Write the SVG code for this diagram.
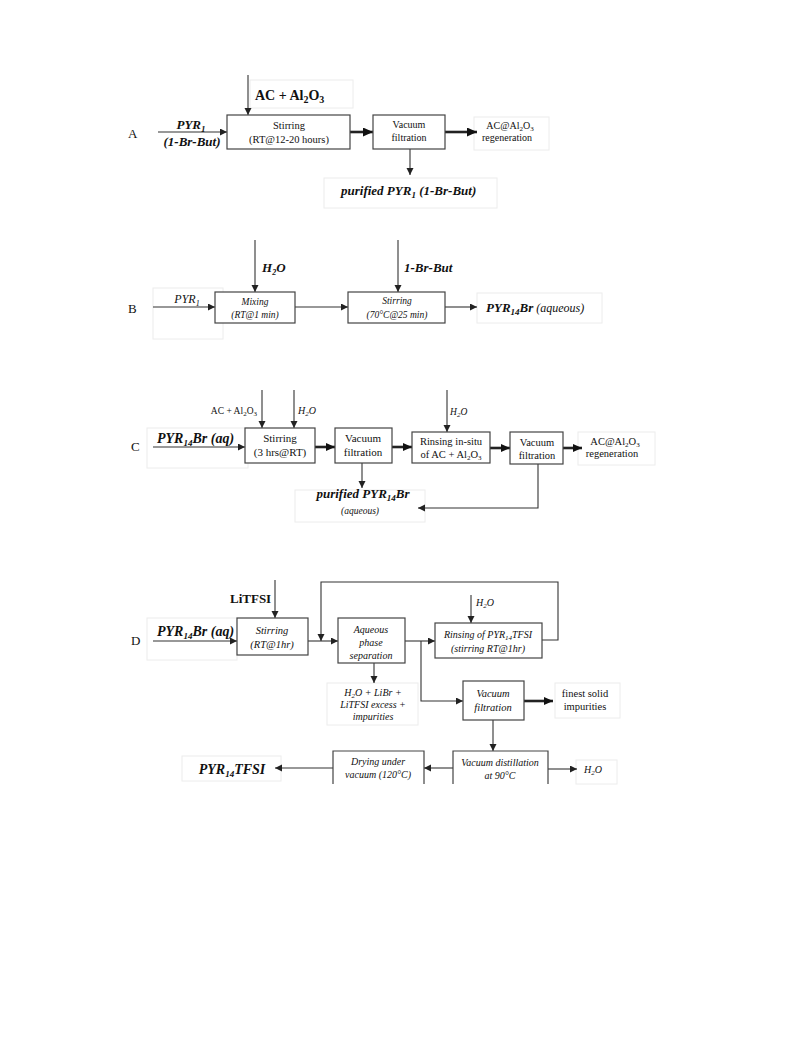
<svg xmlns="http://www.w3.org/2000/svg" width="793" height="1057" viewBox="0 0 793 1057">
<defs>
<style>
text{font-family:"Liberation Serif","Times New Roman",serif;fill:#111}
.box{fill:#fff;stroke:#444;stroke-width:1.2}
.open{fill:none;stroke:#444;stroke-width:1.2}
.faint{fill:#fff;stroke:#ececec;stroke-width:1}
.ln{fill:none;stroke:#333;stroke-width:1.1}
.tk{fill:none;stroke:#222;stroke-width:2.6}
.c{text-anchor:middle}
.i{font-style:italic}
.b{font-weight:bold}
.bi{font-weight:bold;font-style:italic}
</style>
<marker id="ah" markerUnits="userSpaceOnUse" markerWidth="8" markerHeight="8" refX="7" refY="3.5" orient="auto">
<path d="M0,0 L7,3.5 L0,7 Z" fill="#222"/>
</marker>
<marker id="ahM" markerUnits="userSpaceOnUse" markerWidth="10" markerHeight="9" refX="9" refY="4" orient="auto">
<path d="M0,0 L9,4 L0,8 Z" fill="#111"/>
</marker>
<marker id="ahT" markerUnits="userSpaceOnUse" markerWidth="11" markerHeight="10" refX="10" refY="4.5" orient="auto">
<path d="M0,0 L10,4.5 L0,9 Z" fill="#111"/>
</marker>
</defs>
<rect width="793" height="1057" fill="#fff"/>

<!-- faint text-box frames -->
<g id="frames">
<rect class="faint" x="250" y="80" width="103" height="28"/>
<rect class="faint" x="474" y="117" width="75" height="33"/>
<rect class="faint" x="324" y="178" width="173" height="30"/>
<rect class="faint" x="153" y="288" width="70" height="51"/>
<rect class="faint" x="477" y="293" width="125" height="30"/>
<rect class="faint" x="147" y="428" width="101" height="40"/>
<rect class="faint" x="578" y="432" width="77" height="33"/>
<rect class="faint" x="295" y="490" width="130" height="32"/>
<rect class="faint" x="147" y="618" width="90" height="42"/>
<rect class="faint" x="327" y="683" width="91" height="42"/>
<rect class="faint" x="555" y="683" width="65" height="35"/>
<rect class="faint" x="576" y="760" width="41" height="24"/>
<rect class="faint" x="182" y="756" width="99" height="25"/>
</g>

<g id="connectors">
<!-- A -->
<line class="ln" x1="248" y1="75" x2="248" y2="115" marker-end="url(#ah)"/>
<line class="ln" x1="158" y1="132" x2="227" y2="132" marker-end="url(#ah)"/>
<line class="tk" x1="350" y1="132" x2="373" y2="132" marker-end="url(#ahT)"/>
<line class="tk" x1="445" y1="132" x2="477" y2="132" marker-end="url(#ahT)"/>
<line class="ln" x1="410" y1="149" x2="410" y2="175" marker-end="url(#ah)"/>
<!-- B -->
<line class="ln" x1="153" y1="307" x2="215" y2="307" marker-end="url(#ah)"/>
<line class="ln" x1="255" y1="240" x2="255" y2="292" marker-end="url(#ah)"/>
<line class="ln" x1="295" y1="307" x2="348" y2="307" marker-end="url(#ah)"/>
<line class="ln" x1="398" y1="240" x2="398" y2="292" marker-end="url(#ah)"/>
<line class="ln" x1="445" y1="307" x2="477" y2="307" marker-end="url(#ah)"/>
<!-- C -->
<line class="ln" x1="153" y1="447" x2="245" y2="447" stroke-width="1.6" marker-end="url(#ah)"/>
<line class="ln" x1="262" y1="390" x2="262" y2="428" marker-end="url(#ah)"/>
<line class="ln" x1="294" y1="390" x2="294" y2="428" marker-end="url(#ah)"/>
<line class="tk" x1="315" y1="447" x2="335" y2="447" stroke-width="2.2" marker-end="url(#ahM)"/>
<line class="tk" x1="392" y1="447" x2="412" y2="447" stroke-width="2.2" marker-end="url(#ahM)"/>
<line class="ln" x1="447" y1="390" x2="447" y2="432" marker-end="url(#ah)"/>
<line class="tk" x1="490" y1="448" x2="510" y2="448" stroke-width="2.2" marker-end="url(#ahM)"/>
<line class="tk" x1="563" y1="448" x2="582" y2="448" stroke-width="2.2" marker-end="url(#ahM)"/>
<line class="ln" x1="362" y1="463" x2="362" y2="488" marker-end="url(#ah)"/>
<polyline class="ln" points="538,464 538,508 418,508" marker-end="url(#ah)"/>
<!-- D -->
<line class="ln" x1="153" y1="641" x2="237" y2="641" stroke-width="1.4" marker-end="url(#ah)"/>
<line class="ln" x1="275" y1="580" x2="275" y2="618" marker-end="url(#ah)"/>
<line class="ln" x1="308" y1="641" x2="338" y2="641" marker-end="url(#ah)"/>
<polyline class="ln" points="542,640 558,640 558,582 321,582 321,641" marker-end="url(#ah)"/>
<line class="ln" x1="405" y1="641" x2="435" y2="641" marker-end="url(#ah)"/>
<line class="ln" x1="471" y1="595" x2="471" y2="623" marker-end="url(#ah)"/>
<polyline class="ln" points="421,641 421,701 463,701" marker-end="url(#ah)"/>
<line class="tk" x1="524" y1="701" x2="553" y2="701" stroke-width="2.4" marker-end="url(#ahM)"/>
<line class="ln" x1="374" y1="663" x2="374" y2="683" marker-end="url(#ah)"/>
<line class="ln" x1="493" y1="720" x2="493" y2="751" marker-end="url(#ah)"/>
<line class="ln" x1="548" y1="769" x2="577" y2="769" marker-end="url(#ah)"/>
<line class="ln" x1="453" y1="768" x2="424" y2="768" marker-end="url(#ah)"/>
<line class="ln" x1="333" y1="768" x2="275" y2="768" marker-end="url(#ah)"/>
</g>

<!-- Section labels -->
<g id="labels">
<text x="128" y="138" font-size="13">A</text>
<text x="128" y="313" font-size="13">B</text>
<text x="131" y="451" font-size="13">C</text>
<text x="131" y="645" font-size="13">D</text>
</g>

<!-- A -->
<g id="A-in-ac"><text class="b" x="255" y="100" font-size="14">AC + Al<tspan font-size="10" dy="3">2</tspan><tspan dy="-3">O</tspan><tspan font-size="10" dy="3">3</tspan></text></g>
<g id="A-in-pyr">
<text class="bi c" x="191" y="129" font-size="13">PYR<tspan font-size="9" dy="3">1</tspan></text>
<text class="bi c" x="192" y="146" font-size="13">(1-Br-But)</text>
</g>
<g id="A-stirring">
<rect class="box" x="227" y="115" width="123" height="34"/>
<text class="c" x="289" y="129" font-size="10.5">Stirring</text>
<text class="c" x="289" y="143" font-size="10.5">(RT@12-20 hours)</text>
</g>
<g id="A-vacuum">
<rect class="box" x="373" y="115" width="72" height="34"/>
<text class="c" x="409" y="128" font-size="10">Vacuum</text>
<text class="c" x="409" y="141" font-size="10">filtration</text>
</g>
<g id="A-regen">
<text class="c" x="510" y="129" font-size="10">AC@Al<tspan font-size="7" dy="2">2</tspan><tspan dy="-2">O</tspan><tspan font-size="7" dy="2">3</tspan></text>
<text class="c" x="507" y="141" font-size="10">regeneration</text>
</g>
<g id="A-purified">
<text class="bi" x="341" y="195" font-size="13">purified PYR<tspan font-size="9" dy="3">1</tspan><tspan dy="-3"> (1-Br-But)</tspan></text>
</g>

<!-- B -->
<g id="B-in-pyr"><text class="i c" x="187" y="303" font-size="12">PYR<tspan font-size="8" dy="3">1</tspan></text></g>
<g id="B-in-h2o"><text class="bi" x="262" y="272" font-size="13">H<tspan font-size="8" dy="3">2</tspan><tspan dy="-3">O</tspan></text></g>
<g id="B-mixing">
<rect class="box" x="215" y="292" width="80" height="31"/>
<text class="i c" x="255" y="305" font-size="9.5">Mixing</text>
<text class="i c" x="255" y="318" font-size="9.5">(RT@1 min)</text>
</g>
<g id="B-in-br"><text class="bi" x="404" y="272" font-size="13">1-Br-But</text></g>
<g id="B-stirring">
<rect class="box" x="348" y="292" width="97" height="31"/>
<text class="i c" x="397" y="304" font-size="9.5">Stirring</text>
<text class="i c" x="397" y="318" font-size="9.5">(70°C@25 min)</text>
</g>
<g id="B-out"><text x="486" y="312" font-size="13"><tspan class="bi">PYR</tspan><tspan class="bi" font-size="9" dy="3">14</tspan><tspan class="bi" dy="-3">Br</tspan><tspan class="i" font-size="12"> (aqueous)</tspan></text></g>

<!-- C -->
<g id="C-in"><text class="bi" x="157" y="443" font-size="14">PYR<tspan font-size="9" dy="3">14</tspan><tspan dy="-3">Br (aq)</tspan></text></g>
<g id="C-in-ac"><text x="257" y="414" font-size="9.5" text-anchor="end">AC + Al<tspan font-size="7" dy="2">2</tspan><tspan dy="-2">O</tspan><tspan font-size="7" dy="2">3</tspan></text></g>
<g id="C-in-h2o"><text class="i" x="298" y="414" font-size="10">H<tspan font-size="7" dy="2">2</tspan><tspan dy="-2">O</tspan></text></g>
<g id="C-stirring">
<rect class="box" x="245" y="428" width="70" height="35"/>
<text class="c" x="280" y="442" font-size="11">Stirring</text>
<text class="c" x="280" y="456" font-size="11">(3 hrs@RT)</text>
</g>
<g id="C-vacuum1">
<rect class="box" x="335" y="428" width="57" height="35"/>
<text class="c" x="363" y="442" font-size="11">Vacuum</text>
<text class="c" x="363" y="456" font-size="11">filtration</text>
</g>
<g id="C-rinse-h2o"><text class="i" x="450" y="415" font-size="9.5">H<tspan font-size="7" dy="2">2</tspan><tspan dy="-2">O</tspan></text></g>
<g id="C-rinsing">
<rect class="box" x="412" y="432" width="78" height="31"/>
<text class="c" x="451" y="445" font-size="10.5">Rinsing in-situ</text>
<text class="c" x="451" y="458" font-size="10.5">of AC + Al<tspan font-size="7" dy="2">2</tspan><tspan dy="-2">O</tspan><tspan font-size="7" dy="2">3</tspan></text>
</g>
<g id="C-vacuum2">
<rect class="box" x="510" y="432" width="53" height="32"/>
<text class="c" x="537" y="446" font-size="10.5">Vacuum</text>
<text class="c" x="537" y="459" font-size="10.5">filtration</text>
</g>
<g id="C-regen">
<text class="c" x="615" y="445" font-size="10.5">AC@Al<tspan font-size="7" dy="2">2</tspan><tspan dy="-2">O</tspan><tspan font-size="7" dy="2">3</tspan></text>
<text class="c" x="612" y="457" font-size="10.5">regeneration</text>
</g>
<g id="C-purified">
<text class="bi c" x="363" y="498" font-size="13">purified PYR<tspan font-size="9" dy="3">14</tspan><tspan dy="-3">Br</tspan></text>
<text class="i c" x="360" y="514" font-size="9.5">(aqueous)</text>
</g>

<!-- D -->
<g id="D-in"><text class="bi" x="157" y="636" font-size="14">PYR<tspan font-size="9" dy="3">14</tspan><tspan dy="-3">Br (aq)</tspan></text></g>
<g id="D-in-litfsi"><text class="b" x="230" y="603" font-size="13">LiTFSI</text></g>
<g id="D-stirring">
<rect class="box" x="237" y="618" width="71" height="37"/>
<text class="i c" x="272" y="634" font-size="10.5">Stirring</text>
<text class="i c" x="272" y="648" font-size="10.5">(RT@1hr)</text>
</g>
<g id="D-aqueous">
<rect class="box" x="338" y="618" width="67" height="45"/>
<text class="i c" x="371" y="633" font-size="10">Aqueous</text>
<text class="i c" x="371" y="646" font-size="10">phase</text>
<text class="i c" x="371" y="659" font-size="10">separation</text>
</g>
<g id="D-rinse-h2o"><text class="i" x="476" y="606" font-size="10">H<tspan font-size="7" dy="2">2</tspan><tspan dy="-2">O</tspan></text></g>
<g id="D-rinsing">
<rect class="box" x="435" y="623" width="107" height="35"/>
<text class="i c" x="488" y="638" font-size="10">Rinsing of PYR<tspan font-size="7" dy="2">14</tspan><tspan dy="-2">TFSI</tspan></text>
<text class="i c" x="488" y="652" font-size="10">(stirring RT@1hr)</text>
</g>
<g id="D-waste">
<text class="i c" x="373" y="696" font-size="10">H<tspan font-size="7" dy="2">2</tspan><tspan dy="-2">O + LiBr +</tspan></text>
<text class="i c" x="373" y="708" font-size="10">LiTFSI excess +</text>
<text class="i c" x="373" y="720" font-size="10">impurities</text>
</g>
<g id="D-vacuum">
<rect class="box" x="463" y="681" width="61" height="39"/>
<text class="i c" x="493" y="697" font-size="10.5">Vacuum</text>
<text class="i c" x="493" y="711" font-size="10.5">filtration</text>
</g>
<g id="D-finest">
<text class="c" x="585" y="697" font-size="10.5">finest solid</text>
<text class="c" x="585" y="710" font-size="10.5">impurities</text>
</g>
<g id="D-distill">
<path class="open" d="M453,784 V751 H548 V784"/>
<text class="i c" x="500" y="766" font-size="10">Vacuum distillation</text>
<text class="i c" x="500" y="779" font-size="10">at 90°C</text>
</g>
<g id="D-h2o-out"><text class="i" x="584" y="773" font-size="10">H<tspan font-size="7" dy="2">2</tspan><tspan dy="-2">O</tspan></text></g>
<g id="D-drying">
<path class="open" d="M333,784 V751 H424 V784"/>
<text class="i c" x="378" y="765" font-size="10">Drying  under</text>
<text class="i c" x="378" y="778" font-size="10">vacuum (120°C)</text>
</g>
<g id="D-product"><text class="bi c" x="232" y="774" font-size="14">PYR<tspan font-size="9" dy="3">14</tspan><tspan dy="-3">TFSI</tspan></text></g>
</svg>
